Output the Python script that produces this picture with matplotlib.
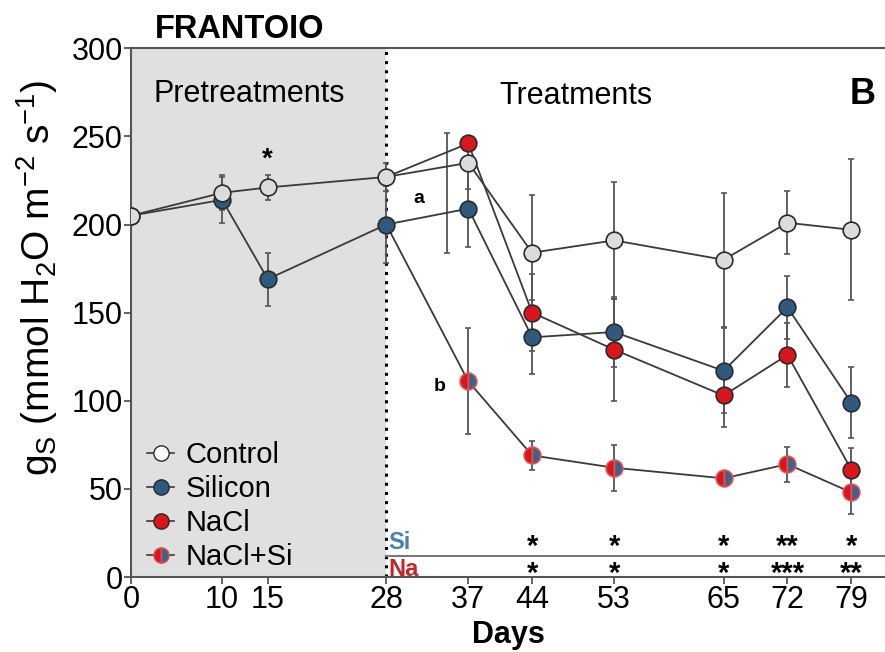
import matplotlib
matplotlib.use("Agg")
import matplotlib.pyplot as plt
import numpy as np
from matplotlib.lines import Line2D

plt.rcParams['font.family'] = ['Liberation Sans', 'DejaVu Sans']
plt.rcParams['mathtext.fontset'] = 'custom'
plt.rcParams['mathtext.rm'] = 'Liberation Sans'
plt.rcParams['mathtext.it'] = 'Liberation Sans:italic'
plt.rcParams['mathtext.bf'] = 'Liberation Sans:bold'

# ---------------- data ----------------
days_ctrl = [0, 10, 15, 28, 37, 44, 53, 65, 72, 79]
ctrl = [205, 218, 221, 227, 235, 184, 191, 180, 201, 197]
ctrl_err = [0, 10, 7, 8, 15, 33, 33, 38, 18, 40]

days_si = [0, 10, 15, 28, 37, 44, 53, 65, 72, 79]
si = [205, 214, 169, 200, 209, 136, 139, 117, 153, 99]
si_err = [0, 13, 15, 22, 22, 21, 20, 24, 18, 20]

days_na = [28, 37, 44, 53, 65, 72, 79]
na = [227, 246, 150, 129, 103, 126, 61]
na_err = [0, 4, 22, 29, 18, 18, 12]

days_nasi = [28, 37, 44, 53, 65, 72, 79]
nasi = [200, 111, 69, 62, 56, 64, 48]
nasi_err = [0, 30, 8, 13, 3, 10, 12]

# stray error bar drawn between day 28 and 37 in the original
stray_day = [34.7]
stray_mid = [218]
stray_err = [34]

xticks = [0, 10, 15, 28, 37, 44, 53, 65, 72, 79]
yticks = [0, 50, 100, 150, 200, 250, 300]

sig_days = [44, 53, 65, 72, 79]
sig_si = ['*', '*', '*', '**', '*']
sig_na = ['*', '*', '*', '***', '**']

# ---------------- colours ----------------
c_ctrl = '#dcdcdc'
c_si = '#2f5a7e'
c_na = '#d9161c'
c_alt = '#3d6487'
c_edge = '#2a2a2a'
c_line = '#3a3a3a'
c_err = '#555555'

fig = plt.figure(figsize=(8.85, 6.52), dpi=100)
ax = fig.add_axes([0.148, 0.115, 0.852, 0.811])
ax.set_xlim(0, 82.7)
ax.set_ylim(0, 300)

ax.axvspan(0, 28, color='#e0e0e0', zorder=0, lw=0)
ax.axvline(28, color='black', ls=(0, (1, 2.0)), lw=2.2, zorder=1)

ms = 12
ekw = dict(ecolor=c_err, elinewidth=1.3, capsize=2.5, capthick=1.2, zorder=2)

ax.errorbar(stray_day, stray_mid, yerr=stray_err, fmt='none', **ekw)

# NaCl+Si
ax.errorbar(days_nasi, nasi, yerr=nasi_err, fmt='none', **ekw)
ax.plot(days_nasi, nasi, '-', color=c_line, lw=1.3, zorder=3)
ax.plot(days_nasi[1:], nasi[1:], 'o', ms=ms, fillstyle='left',
        markerfacecolor=c_na, markerfacecoloralt=c_alt,
        markeredgecolor='#e05055', mew=1.2, zorder=4, ls='none')

# NaCl
ax.errorbar(days_na, na, yerr=na_err, fmt='none', **ekw)
ax.plot(days_na, na, '-', color=c_line, lw=1.3, zorder=3)
ax.plot(days_na[1:], na[1:], 'o', ms=ms, markerfacecolor=c_na,
        markeredgecolor=c_edge, mew=1.2, zorder=4, ls='none')

# Silicon
ax.errorbar(days_si, si, yerr=si_err, fmt='none', **ekw)
ax.plot(days_si, si, 'o-', color=c_line, lw=1.3, ms=ms, markerfacecolor=c_si,
        markeredgecolor=c_edge, mew=1.2, zorder=5)

# Control
ax.errorbar(days_ctrl, ctrl, yerr=ctrl_err, fmt='none', **ekw)
ax.plot(days_ctrl, ctrl, 'o-', color=c_line, lw=1.3, ms=ms, markerfacecolor=c_ctrl,
        markeredgecolor=c_edge, mew=1.2, zorder=6)

# significance rows
ax.plot([28, 82.7], [12, 12], color='#777777', lw=1.5, zorder=2, clip_on=False)
ax.text(28.2, 19.5, 'Si', color='#4a7fae', fontsize=17, fontweight='bold', va='center', ha='left')
ax.text(28.2, 4.5, 'Na', color='#c0282d', fontsize=17, fontweight='bold', va='center', ha='left')
for d, s1, s2 in zip(sig_days, sig_si, sig_na):
    ax.text(d, 17, s1, fontsize=21, fontweight='bold', ha='center', va='center')
    ax.text(d, 2, s2, fontsize=21, fontweight='bold', ha='center', va='center')

ax.text(15, 237, '*', fontsize=20, fontweight='bold', ha='center', va='center')
ax.text(31.6, 215, 'a', fontsize=14, fontweight='bold', ha='center', va='center')
ax.text(33.9, 108, 'b', fontsize=14, fontweight='bold', ha='center', va='center')

ax.text(13.0, 274, 'Pretreatments', fontsize=22, ha='center', va='center')
ax.text(48.8, 273, 'Treatments', fontsize=22, ha='center', va='center')
ax.text(80.2, 274, 'B', fontsize=26, fontweight='bold', ha='center', va='center')
fig.text(0.175, 0.955, 'FRANTOIO', fontsize=23.5, fontweight='bold', ha='left', va='center')

# axes style
for side in ['left', 'bottom', 'top']:
    ax.spines[side].set_color('#555555')
    ax.spines[side].set_linewidth(1.5)
ax.spines['right'].set_visible(False)
ax.set_xticks(xticks)
ax.set_yticks(yticks)
ax.tick_params(axis='both', labelsize=22, color='#555555', width=1.3, length=5, direction='out')
ax.tick_params(axis='x', pad=1)
ax.tick_params(axis='y', pad=1)
ax.set_xlabel('Days', fontsize=22, fontweight='bold', labelpad=3)
ax.set_ylabel(r'g$_{\mathrm{S}}$ (mmol H$_{2}$O m$^{\mathrm{-2}}$ s$^{\mathrm{-1}}$)',
              fontsize=28)
ax.yaxis.set_label_coords(-0.094, 0.565)

# legend
handles = [
    Line2D([], [], color=c_line, lw=1.2, marker='o', ms=11, markerfacecolor='white', markeredgecolor=c_edge),
    Line2D([], [], color=c_line, lw=1.2, marker='o', ms=11, markerfacecolor=c_si, markeredgecolor=c_edge),
    Line2D([], [], color=c_line, lw=1.2, marker='o', ms=11, markerfacecolor=c_na, markeredgecolor=c_edge),
    Line2D([], [], color=c_line, lw=1.2, marker='o', ms=11, fillstyle='left', markerfacecolor=c_na,
           markerfacecoloralt=c_alt, markeredgecolor='#e05055'),
]
ax.legend(handles, ['Control', 'Silicon', 'NaCl', 'NaCl+Si'], loc='lower left',
          bbox_to_anchor=(-0.013, -0.038), frameon=False, fontsize=21,
          handlelength=0.9, handletextpad=0.4, labelspacing=0.2)

fig.savefig('out.png', dpi=100)
